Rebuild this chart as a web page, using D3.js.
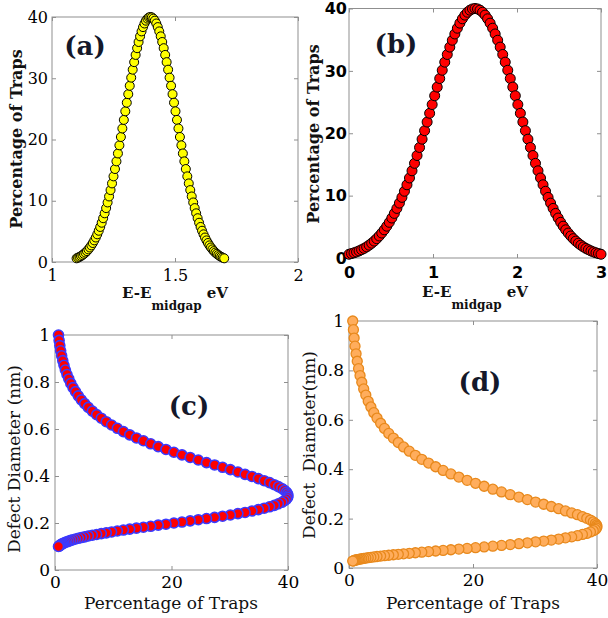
<!DOCTYPE html>
<html>
<head>
<meta charset="utf-8">
<script src="https://cdn.jsdelivr.net/npm/d3@7"></script>
<style>
  html, body { margin: 0; padding: 0; background: #fff; }
  svg { display: block; }
  text { white-space: pre; }
</style>
</head>
<body>
<svg id="fig" width="608" height="618"></svg>
<script>
// Trap distribution: percentage of traps for each sample (shared by all four panels)
const trapPct = [
  0.60,0.71,0.83,0.97,1.14,1.33,1.54,1.78,2.06,2.37,
  2.71,3.10,3.53,4.00,4.52,5.10,5.72,6.41,7.15,7.95,
  8.80,9.72,10.70,11.74,12.83,13.98,15.18,16.43,17.72,19.05,
  20.41,21.80,23.20,24.60,26.01,27.40,28.77,30.10,31.40,32.63,
  33.81,34.91,35.92,36.84,37.65,38.35,38.94,39.40,39.73,39.93,
  40.00,
  39.93,39.73,39.40,38.94,38.35,37.65,36.84,35.92,34.91,33.81,
  32.63,31.40,30.10,28.77,27.40,26.01,24.60,23.20,21.80,20.41,
  19.05,17.72,16.43,15.18,13.98,12.83,11.74,10.70,9.72,8.80,
  7.95,7.15,6.41,5.72,5.10,4.52,4.00,3.53,3.10,2.71,
  2.37,2.06,1.78,1.54,1.33,1.14,0.97,0.83,0.71,0.60
];

// Trap energy E - E_midgap (eV), narrow distribution (a)
const energyA = [
  1.100,1.106,1.112,1.118,1.124,1.130,1.136,1.142,1.148,1.154,
  1.160,1.166,1.172,1.178,1.184,1.190,1.196,1.202,1.208,1.214,
  1.220,1.226,1.232,1.238,1.244,1.250,1.256,1.262,1.268,1.274,
  1.280,1.286,1.292,1.298,1.304,1.310,1.316,1.322,1.328,1.334,
  1.340,1.346,1.352,1.358,1.364,1.370,1.376,1.382,1.388,1.394,
  1.400,
  1.406,1.412,1.418,1.424,1.430,1.436,1.442,1.448,1.454,1.460,
  1.466,1.472,1.478,1.484,1.490,1.496,1.502,1.508,1.514,1.520,
  1.526,1.532,1.538,1.544,1.550,1.556,1.562,1.568,1.574,1.580,
  1.586,1.592,1.598,1.604,1.610,1.616,1.622,1.628,1.634,1.640,
  1.646,1.652,1.658,1.664,1.670,1.676,1.682,1.688,1.694,1.700
];

// Trap energy E - E_midgap (eV), wide distribution (b)
const energyB = [
  0.00,0.03,0.06,0.09,0.12,0.15,0.18,0.21,0.24,0.27,
  0.30,0.33,0.36,0.39,0.42,0.45,0.48,0.51,0.54,0.57,
  0.60,0.63,0.66,0.69,0.72,0.75,0.78,0.81,0.84,0.87,
  0.90,0.93,0.96,0.99,1.02,1.05,1.08,1.11,1.14,1.17,
  1.20,1.23,1.26,1.29,1.32,1.35,1.38,1.41,1.44,1.47,
  1.50,
  1.53,1.56,1.59,1.62,1.65,1.68,1.71,1.74,1.77,1.80,
  1.83,1.86,1.89,1.92,1.95,1.98,2.01,2.04,2.07,2.10,
  2.13,2.16,2.19,2.22,2.25,2.28,2.31,2.34,2.37,2.40,
  2.43,2.46,2.49,2.52,2.55,2.58,2.61,2.64,2.67,2.70,
  2.73,2.76,2.79,2.82,2.85,2.88,2.91,2.94,2.97,3.00
];

// Defect diameter (nm) for each trap, panel (c)
const diameterC = [
  1.000,0.977,0.955,0.933,0.912,0.891,0.871,0.851,0.832,0.813,
  0.794,0.776,0.759,0.741,0.724,0.708,0.692,0.676,0.661,0.646,
  0.631,0.617,0.603,0.589,0.575,0.562,0.550,0.537,0.525,0.513,
  0.501,0.490,0.479,0.468,0.457,0.447,0.437,0.427,0.417,0.407,
  0.398,0.389,0.380,0.372,0.363,0.355,0.347,0.339,0.331,0.324,
  0.316,
  0.309,0.302,0.295,0.288,0.282,0.275,0.269,0.263,0.257,0.251,
  0.245,0.240,0.234,0.229,0.224,0.219,0.214,0.209,0.204,0.200,
  0.195,0.191,0.186,0.182,0.178,0.174,0.170,0.166,0.162,0.158,
  0.155,0.151,0.148,0.145,0.141,0.138,0.135,0.132,0.129,0.126,
  0.123,0.120,0.118,0.115,0.112,0.110,0.107,0.105,0.102,0.100
];

// Defect diameter (nm) for each trap, panel (d)
const diameterD = [
  1.000,0.965,0.931,0.898,0.867,0.837,0.807,0.779,0.752,0.725,
  0.700,0.675,0.652,0.629,0.607,0.586,0.565,0.545,0.526,0.508,
  0.490,0.473,0.456,0.440,0.425,0.410,0.395,0.381,0.368,0.355,
  0.343,0.331,0.319,0.308,0.297,0.287,0.277,0.267,0.258,0.249,
  0.240,0.231,0.223,0.216,0.208,0.201,0.194,0.187,0.180,0.174,
  0.168,
  0.162,0.156,0.151,0.146,0.140,0.136,0.131,0.126,0.122,0.117,
  0.113,0.109,0.106,0.102,0.0983,0.0948,0.0915,0.0883,0.0852,0.0822,
  0.0793,0.0766,0.0739,0.0713,0.0688,0.0664,0.0640,0.0618,0.0596,0.0575,
  0.0555,0.0536,0.0517,0.0499,0.0481,0.0465,0.0448,0.0433,0.0417,0.0403,
  0.0389,0.0375,0.0362,0.0349,0.0337,0.0325,0.0314,0.0303,0.0292,0.0282
];

// Tick values
const ticksEnergyA = [1, 1.5, 2];
const ticksEnergyB = [0, 1, 2, 3];
const ticksPct = [0, 10, 20, 30, 40];
const ticksPctShort = [0, 20, 40];
const ticksDiam = [0, 0.2, 0.4, 0.6, 0.8, 1];

const SERIF = "'DejaVu Serif', serif";
const SANS = "'DejaVu Sans', sans-serif";
const svg = d3.select("#fig");

function drawPanel(p) {
  const x = d3.scaleLinear().domain(p.xDomain).range([p.left, p.right]);
  const y = d3.scaleLinear().domain(p.yDomain).range([p.bottom, p.top]);
  const g = svg.append("g");

  // plot box
  g.append("rect")
    .attr("x", p.left).attr("y", p.top)
    .attr("width", p.right - p.left).attr("height", p.bottom - p.top)
    .attr("fill", "none").attr("stroke", "#8f8f8f").attr("stroke-width", 1);

  // axes: inward ticks on every side, labels on bottom/left only
  const tk = 4;
  const fmtX = p.xFormat || (d => String(d));
  const fmtY = p.yFormat || (d => String(d));
  const axB = d3.axisBottom(x).tickValues(p.xTicks).tickSize(-tk).tickPadding(p.xPad).tickFormat(fmtX);
  const axT = d3.axisTop(x).tickValues(p.xTicks).tickSize(-tk).tickFormat("");
  const axL = d3.axisLeft(y).tickValues(p.yTicks).tickSize(-tk).tickPadding(p.yPad).tickFormat(fmtY);
  const axR = d3.axisRight(y).tickValues(p.yTicks).tickSize(-tk).tickFormat("");

  const styleAxis = (sel) => {
    sel.select(".domain").remove();
    sel.selectAll(".tick line").attr("stroke", "#8f8f8f");
    sel.selectAll(".tick text")
      .attr("fill", "#000")
      .style("font-family", p.tickFont)
      .style("font-size", p.tickSize + "px")
      .style("font-weight", p.tickWeight);
  };
  g.append("g").attr("transform", `translate(0,${p.bottom})`).call(axB).call(styleAxis);
  g.append("g").attr("transform", `translate(0,${p.top})`).call(axT).call(styleAxis);
  g.append("g").attr("transform", `translate(${p.left},0)`).call(axL).call(styleAxis);
  g.append("g").attr("transform", `translate(${p.right},0)`).call(axR).call(styleAxis);

  // markers
  const pts = p.xs.map((v, i) => ({ x: v, y: p.ys[i] }));
  g.append("g")
    .selectAll("circle")
    .data(pts)
    .join("circle")
    .attr("cx", d => x(d.x))
    .attr("cy", d => y(d.y))
    .attr("r", p.r)
    .attr("fill", p.fill)
    .attr("stroke", p.stroke)
    .attr("stroke-width", p.strokeWidth);

  // panel tag
  g.append("text")
    .attr("x", p.tag.x).attr("y", p.tag.y)
    .attr("text-anchor", "middle")
    .attr("dominant-baseline", "central")
    .style("font-family", SERIF)
    .style("font-size", "26px")
    .style("font-weight", "bold")
    .attr("fill", "#14182a")
    .text(p.tag.text);

  // y label
  g.append("text")
    .attr("transform", `translate(${p.yLabel.x},${p.yLabel.y}) rotate(-90)`)
    .attr("text-anchor", "middle")
    .attr("dominant-baseline", "central")
    .style("font-family", SERIF)
    .style("font-size", p.yLabel.size + "px")
    .style("font-weight", p.yLabel.weight)
    .attr("fill", "#111")
    .text(p.yLabel.text);

  // x label
  const xl = g.append("text")
    .attr("x", p.xLabel.x).attr("y", p.xLabel.y)
    .attr("text-anchor", "middle")
    .style("font-family", SERIF)
    .style("font-size", p.xLabel.size + "px")
    .style("font-weight", p.xLabel.weight)
    .attr("fill", "#111");
  if (p.xLabel.sub) {
    xl.append("tspan").text(p.xLabel.text);
    xl.append("tspan").attr("dy", 12).style("font-size", "12px").text(p.xLabel.sub);
    xl.append("tspan").attr("dy", -12).text(" " + p.xLabel.after);
  } else {
    xl.text(p.xLabel.text);
  }
}

// (a) narrow energy distribution
drawPanel({
  left: 52, right: 298, top: 17, bottom: 262,
  xDomain: [1, 2], yDomain: [0, 40],
  xTicks: ticksEnergyA, yTicks: ticksPct,
  xPad: 8, yPad: 4,
  tickFont: SERIF, tickSize: 16, tickWeight: "normal",
  xs: energyA, ys: trapPct,
  r: 4.5, fill: "#ffff00", stroke: "#000", strokeWidth: 1,
  tag: { text: "(a)", x: 85, y: 46 },
  yLabel: { text: "Percentage of Traps", x: 16, y: 139, size: 16, weight: "bold" },
  xLabel: { text: "E-E", sub: "midgap", after: "eV", x: 175, y: 298, size: 15, weight: "bold" }
});

// (b) wide energy distribution
drawPanel({
  left: 349, right: 601, top: 8.5, bottom: 258,
  xDomain: [0, 3], yDomain: [0, 40],
  xTicks: ticksEnergyB, yTicks: ticksPct,
  xPad: 9, yPad: 2,
  tickFont: SANS, tickSize: 16, tickWeight: "bold",
  xs: energyB, ys: trapPct,
  r: 5, fill: "#ff0000", stroke: "#000", strokeWidth: 1,
  tag: { text: "(b)", x: 396, y: 44 },
  yLabel: { text: "Percentage of Traps", x: 313, y: 134, size: 16, weight: "bold" },
  xLabel: { text: "E-E", sub: "midgap", after: "eV", x: 475, y: 297, size: 15, weight: "bold" }
});

// (c) defect diameter vs. trap percentage
drawPanel({
  left: 55, right: 288, top: 335, bottom: 570,
  xDomain: [0, 40], yDomain: [0, 1],
  xTicks: ticksPctShort, yTicks: ticksDiam,
  xPad: 6, yPad: 5,
  tickFont: SERIF, tickSize: 17, tickWeight: "normal",
  xs: trapPct, ys: diameterC,
  r: 5, fill: "#ff0000", stroke: "#3a3aff", strokeWidth: 1.6,
  tag: { text: "(c)", x: 189, y: 406 },
  yLabel: { text: "Defect Diameter (nm)", x: 14, y: 459, size: 17, weight: "normal" },
  xLabel: { text: "Percentage of Traps", x: 171, y: 609, size: 17, weight: "normal" }
});

// (d) defect diameter vs. trap percentage
drawPanel({
  left: 349, right: 597, top: 321, bottom: 568,
  xDomain: [0, 40], yDomain: [0, 1],
  xTicks: ticksPctShort, yTicks: ticksDiam,
  xPad: 6, yPad: 5,
  tickFont: SERIF, tickSize: 17, tickWeight: "normal",
  xs: trapPct, ys: diameterD,
  r: 5, fill: "#ffad5c", stroke: "#e8891c", strokeWidth: 1.3,
  tag: { text: "(d)", x: 480, y: 382 },
  yLabel: { text: "Defect  Diameter(nm)", x: 309, y: 445, size: 17, weight: "normal" },
  xLabel: { text: "Percentage of Traps", x: 473, y: 609, size: 17, weight: "normal" }
});
</script>
</body>
</html>
